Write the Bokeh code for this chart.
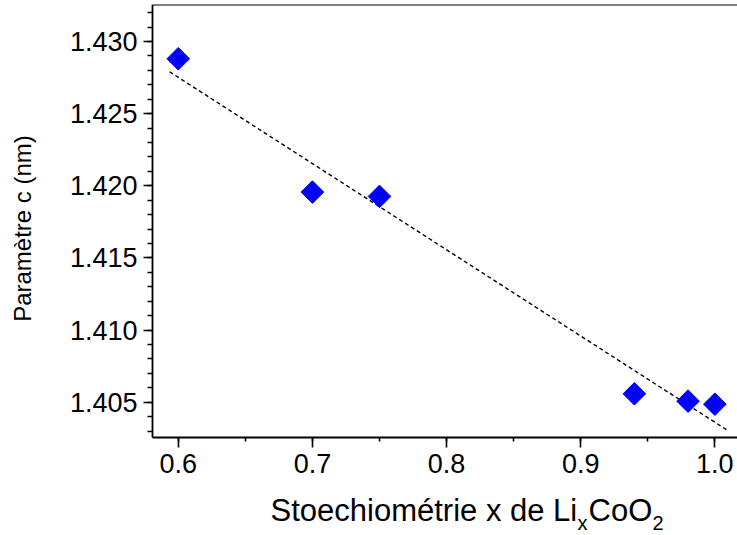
from bokeh.plotting import figure
from bokeh.models import (Range1d, SingleIntervalTicker, NumeralTickFormatter,
                          FixedTicker, LinearAxis, Label, ColumnDataSource)
from bokeh.embed import file_html
from bokeh.resources import INLINE
import math

# ---- data ----
stoich_x = [0.60, 0.70, 0.75, 0.94, 0.98, 1.00]
param_c = [1.4288, 1.41956, 1.41926, 1.40558, 1.40507, 1.40486]
fit_x = [0.5935, 1.0102]
fit_y = [1.4279, 1.4030]
x_ticks_interval = 0.1
y_ticks_interval = 0.005
y_title = "Paramètre c (nm)"
x_title_parts = ["Stoechiométrie x de Li", "x", "CoO", "2"]

# extents of the drawn axes, and of the whole plotting area
AXIS_X_MIN, AXIS_X_MAX = 0.5808, 1.01687
AXIS_Y_MIN, AXIS_Y_MAX = 1.40257, 1.43256
AREA_X_MIN = 0.46749
AREA_Y_MIN = 1.39576

FONT = "Liberation Sans"

p = figure(width=737, height=535, output_backend="svg", toolbar_location=None,
           x_range=Range1d(AREA_X_MIN, AXIS_X_MAX),
           y_range=Range1d(AREA_Y_MIN, AXIS_Y_MAX),
           min_border_left=0, min_border_right=0, min_border_top=4,
           min_border_bottom=0)
p.outline_line_color = None
p.grid.visible = False
p.background_fill_color = "white"
p.border_fill_color = "white"

# fit line
p.line(fit_x, fit_y, line_color="black", line_width=1.4, line_dash="4 3")

# data points (diamonds)
src = ColumnDataSource(dict(x=stoich_x, y=param_c))
p.scatter("x", "y", source=src, marker="square", angle=math.pi / 4, size=16,
          fill_color="#0000FF", line_color="#0000FF")

# axes
for ax in (p.xaxis[0], p.yaxis[0]):
    ax.axis_line_width = 1.8
    ax.axis_line_color = "black"
    ax.major_tick_line_width = 1.6
    ax.minor_tick_line_width = 1.6
    ax.major_tick_line_color = "black"
    ax.minor_tick_line_color = "black"
    ax.major_tick_in = 0
    ax.minor_tick_in = 0
    ax.major_label_text_font = FONT
    ax.major_label_text_font_size = "27px"
    ax.major_label_text_color = "black"

p.xaxis.ticker = SingleIntervalTicker(interval=x_ticks_interval, num_minor_ticks=2)
p.xaxis.formatter = NumeralTickFormatter(format="0.0")
p.xaxis.bounds = (AXIS_X_MIN, AXIS_X_MAX)
p.xaxis.major_tick_out = 10
p.xaxis.minor_tick_out = 4
p.xaxis.major_label_standoff = 7
p.xaxis.fixed_location = AXIS_Y_MIN

p.yaxis.ticker = SingleIntervalTicker(interval=y_ticks_interval, num_minor_ticks=5)
p.yaxis.formatter = NumeralTickFormatter(format="0.000")
p.yaxis.bounds = (AXIS_Y_MIN, AXIS_Y_MAX)
p.yaxis.major_tick_out = 9
p.yaxis.minor_tick_out = 5
p.yaxis.major_label_standoff = 6
p.yaxis.fixed_location = AXIS_X_MIN

# top border line (plain axis without ticks)
top = LinearAxis(ticker=FixedTicker(ticks=[]), fixed_location=AXIS_Y_MAX,
                 bounds=(AXIS_X_MIN, AXIS_X_MAX), axis_line_width=2,
                 axis_line_color="black", major_tick_line_color=None,
                 minor_tick_line_color=None)
p.add_layout(top, "above")

# y axis title
p.add_layout(Label(x=22, y=307, x_units="screen", y_units="screen", text=y_title,
                   angle=math.pi / 2, text_font=FONT, text_font_size="24px",
                   text_color="black", text_baseline="middle", text_align="center"))

# x axis title with subscripts
part_pos = [(118, 25, "31px"), (425, 13, "20px"), (436, 25, "31px"), (500, 13, "20px")]
for txt, (sx, sy, fs) in zip(x_title_parts, part_pos):
    p.add_layout(Label(x=152 + sx, y=sy, x_units="screen", y_units="screen", text=txt,
                       text_font=FONT, text_font_size=fs, text_color="black",
                       text_baseline="middle", text_align="left"))

open("out.html", "w").write(file_html(p, INLINE))
